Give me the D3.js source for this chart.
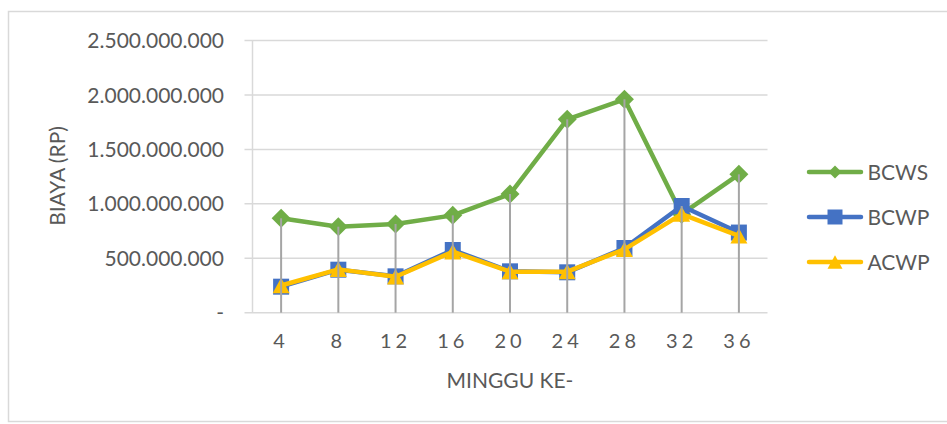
<!DOCTYPE html>
<html>
<head>
<meta charset="utf-8">
<script src="https://cdn.jsdelivr.net/npm/d3@7"></script>
<style>
  html, body { margin: 0; padding: 0; background: #fff; }
  svg { display: block; }
  text { font-family: Lato, "Open Sans", sans-serif; fill: #595959; }
</style>
</head>
<body>
<svg id="chart" width="947" height="424"></svg>
<script>
// Minggu ke- (week number)
const weeks = [4, 8, 12, 16, 20, 24, 28, 32, 36];
// Biaya (Rp)
const bcws = [867000000, 790000000, 815000000, 894000000, 1090000000, 1776000000, 1960000000, 905000000, 1271000000];
const bcwp = [239000000, 395000000, 334000000, 576000000, 380000000, 371000000, 594000000, 980000000, 736000000];
const acwp = [250000000, 398000000, 330000000, 560000000, 377000000, 377000000, 582000000, 905000000, 705000000];
const yTicks = [0, 500000000, 1000000000, 1500000000, 2000000000, 2500000000];
const seriesNames = ["BCWS", "BCWP", "ACWP"];

const series = [
  { name: seriesNames[0], values: bcws, color: "#70ad47", marker: "diamond" },
  { name: seriesNames[1], values: bcwp, color: "#4472c4", marker: "square" },
  { name: seriesNames[2], values: acwp, color: "#ffc000", marker: "triangle" }
];

const svg = d3.select("#chart");
const plot = { left: 252.5, right: 767.5, top: 40.5, bottom: 312.7 };

const x = d3.scaleBand().domain(weeks).range([plot.left, plot.right]);
const y = d3.scaleLinear().domain([0, 2500000000]).range([plot.bottom, plot.top]);
const cx = w => x(w) + x.bandwidth() / 2;

const idLocale = d3.formatLocale({ decimal: ",", thousands: ".", grouping: [3], currency: ["Rp", ""] });
const fmt = v => v === 0 ? "-" : idLocale.format(",.0f")(v);

// chart area border
svg.append("rect")
  .attr("x", 8.5).attr("y", 11.5).attr("width", 960).attr("height", 410)
  .attr("fill", "none").attr("stroke", "#d9d9d9").attr("stroke-width", 1.5);

// horizontal gridlines (with short outside ticks)
svg.append("g").selectAll("line").data(yTicks).join("line")
  .attr("x1", plot.left - 8).attr("x2", plot.right)
  .attr("y1", d => y(d)).attr("y2", d => y(d))
  .attr("stroke", "#d9d9d9").attr("stroke-width", 1.5);

// value axis line
svg.append("line")
  .attr("x1", plot.left).attr("x2", plot.left)
  .attr("y1", plot.top).attr("y2", plot.bottom)
  .attr("stroke", "#d9d9d9").attr("stroke-width", 1.5);

// y tick labels
svg.append("g").selectAll("text").data(yTicks).join("text")
  .attr("x", 224).attr("y", d => y(d)).attr("dy", "0.36em")
  .attr("text-anchor", "end").attr("font-size", 21)
  .text(fmt);

// x tick labels (letter-spaced digits)
svg.append("g").selectAll("text").data(weeks).join("text")
  .attr("x", d => cx(d)).attr("y", 341).attr("dy", "0.36em")
  .attr("text-anchor", "middle").attr("font-size", 20)
  .attr("letter-spacing", 4)
  .text(d => String(d));

// axis titles
svg.append("text")
  .attr("x", 510).attr("y", 380).attr("dy", "0.36em")
  .attr("text-anchor", "middle").attr("font-size", 21)
  .text("MINGGU KE-");

svg.append("text")
  .attr("transform", "translate(57,176) rotate(-90)")
  .attr("dy", "0.36em")
  .attr("text-anchor", "middle").attr("font-size", 21)
  .text("BIAYA (RP)");

// marker shapes
function markerPath(type, s) {
  const p = d3.path();
  if (type === "diamond") {
    p.moveTo(0, -s); p.lineTo(s, 0); p.lineTo(0, s); p.lineTo(-s, 0); p.closePath();
  } else if (type === "square") {
    p.rect(-s, -s, 2 * s, 2 * s);
  } else {
    const h = s * 0.9;
    p.moveTo(0, -h); p.lineTo(s, h); p.lineTo(-s, h); p.closePath();
  }
  return p.toString();
}
const markerSize = { diamond: 9.5, square: 8, triangle: 8.5 };
const legendSize = { diamond: 6.5, square: 7.5, triangle: 7.5 };

const line = d3.line().x((d, i) => cx(weeks[i])).y(d => y(d));

const gSeries = svg.append("g");
series.forEach(s => {
  const g = gSeries.append("g");
  g.append("path").attr("d", line(s.values))
    .attr("fill", "none").attr("stroke", s.color)
    .attr("stroke-width", 4.5).attr("stroke-linejoin", "round").attr("stroke-linecap", "round");
  g.selectAll("path.m").data(s.values).join("path").attr("class", "m")
    .attr("transform", (d, i) => `translate(${cx(weeks[i])},${y(d)})`)
    .attr("d", markerPath(s.marker, markerSize[s.marker]))
    .attr("fill", s.color);
});

// drop lines from the highest point of each week to the category axis
svg.append("g").selectAll("line").data(weeks).join("line")
  .attr("x1", d => cx(d)).attr("x2", d => cx(d))
  .attr("y1", (d, i) => y(Math.max(bcws[i], bcwp[i], acwp[i])))
  .attr("y2", plot.bottom)
  .attr("stroke", "#a5a5a5").attr("stroke-width", 2);

// legend
const legend = svg.append("g");
series.forEach((s, i) => {
  const ly = 172 + i * 45;
  legend.append("line").attr("x1", 809).attr("x2", 861).attr("y1", ly).attr("y2", ly)
    .attr("stroke", s.color).attr("stroke-width", 4.5).attr("stroke-linecap", "round");
  legend.append("path").attr("transform", `translate(835,${ly})`)
    .attr("d", markerPath(s.marker, legendSize[s.marker])).attr("fill", s.color);
  legend.append("text").attr("x", 867.5).attr("y", ly).attr("dy", "0.36em")
    .attr("font-size", 21).text(s.name);
});
</script>
</body>
</html>
